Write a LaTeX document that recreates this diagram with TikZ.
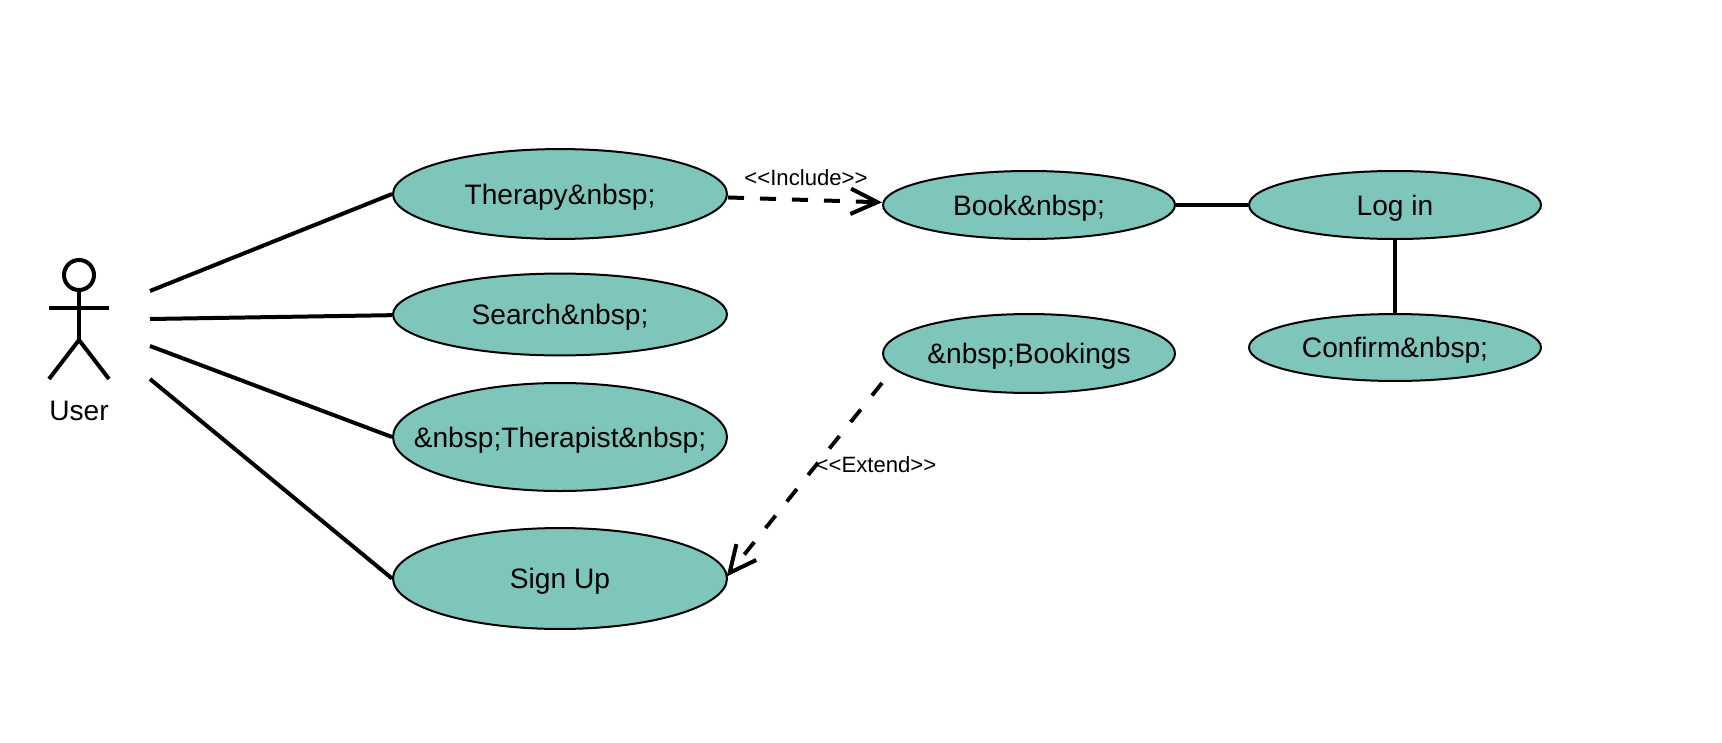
\documentclass[tikz,border=0pt]{standalone}
\usepackage{fontspec}
\setmainfont{Liberation Sans}
\usetikzlibrary{arrows.meta,shapes.geometric}
\definecolor{usecase}{HTML}{7EC6BC}
\newcommand\uclabel[1]{\smash{\makebox[0pt][c]{\raisebox{-7.8pt}{#1}}}}
\tikzset{
  x=0.75pt,y=-0.75pt,
  usecasebox/.style={ellipse,draw=black,line width=1.5pt,fill=usecase,inner sep=0pt,
    minimum width=#1,font=\fontsize{21.1}{24}\selectfont},
  assoc/.style={line width=3pt,black},
  actorline/.style={line width=3pt,black},
  dep/.style={line width=3pt,dash pattern=on 12pt off 12pt,
    -{Straight Barb[length=20pt,width=19pt,line width=3pt]}},
  deplabel/.style={font=\fontsize{16.6}{18}\selectfont,inner sep=0pt},
}
\begin{document}
\begin{tikzpicture}
\useasboundingbox (0,0) rectangle (1722,742);
% use cases
\node[usecasebox=250.5pt,minimum height=67.4pt] (therapy) at (560,194) {\uclabel{Therapy\&nbsp;}};
\node[usecasebox=250.5pt,minimum height=61.4pt] (search) at (560,314.5) {\uclabel{Search\&nbsp;}};
\node[usecasebox=250.5pt,minimum height=81pt] (therapist) at (560,437) {\uclabel{\&nbsp;Therapist\&nbsp;}};
\node[usecasebox=250.5pt,minimum height=75.7pt] (signup) at (560,578.5) {\uclabel{Sign Up}};
\node[usecasebox=219pt,minimum height=51pt] (book) at (1029,205) {\uclabel{Book\&nbsp;}};
\node[usecasebox=219pt,minimum height=59.2pt] (bookings) at (1029,353.5) {\uclabel{\&nbsp;Bookings}};
\node[usecasebox=219pt,minimum height=51pt] (login) at (1395,205) {\uclabel{Log in}};
\node[usecasebox=219pt,minimum height=50.2pt] (confirm) at (1395,347.5) {\uclabel{Confirm\&nbsp;}};
% actor
\node[circle,draw=black,line width=3pt,minimum size=22.5pt,inner sep=0pt] (head) at (79,275) {};
\coordinate (hip) at (79,340);
\coordinate (armL) at (49,308);
\coordinate (armR) at (109,308);
\coordinate (legL) at (49,379);
\coordinate (legR) at (109,379);
\draw[actorline] (head.south) -- (hip);
\draw[actorline] (armL) -- (armR);
\draw[actorline] (legL) -- (hip) -- (legR);
\node[font=\fontsize{21.1}{24}\selectfont,inner sep=0pt] (user) at (79,411) {User};
% associations
\coordinate (a1) at (150,291);
\coordinate (a2) at (150,319);
\coordinate (a3) at (150,346);
\coordinate (a4) at (150,379);
\draw[assoc] (a1) -- (therapy.west);
\draw[assoc] (a2) -- ([yshift=-0.5pt]search.west);
\draw[assoc] (a3) -- (therapist.west);
\draw[assoc] (a4) -- (signup.west);
\draw[assoc] (book.east) -- (login.west);
\draw[assoc] (login.south) -- (confirm.north);
% dependencies
\draw[dep] ([yshift=-2.6pt]therapy.east) -- ([yshift=2pt]book.west);
\coordinate (bk) at (882,383);
\draw[dep,line width=2.9pt,dash pattern=on 12pt off 13.5pt] (bk) -- ([xshift=-1pt,yshift=1.5pt]signup.east);
\node[deplabel] (inc) at (806,177.5) {<{}<Include>{}>};
\node[deplabel] (ext) at (876,465) {<{}<Extend>{}>};
\end{tikzpicture}
\end{document}
